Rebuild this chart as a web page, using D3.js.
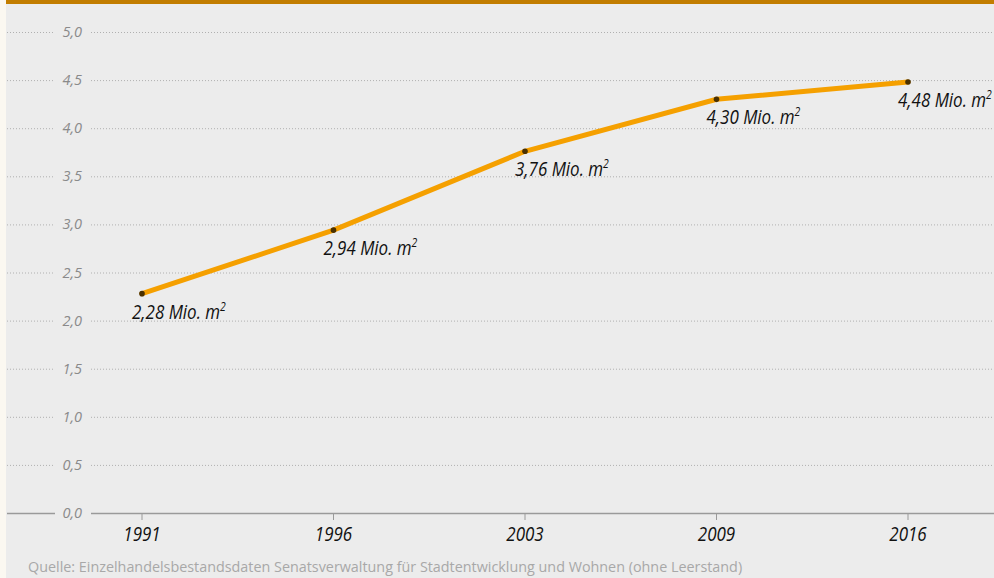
<!DOCTYPE html>
<html>
<head>
<meta charset="utf-8">
<script src="https://cdn.jsdelivr.net/npm/d3@7"></script>
<style>
  body { margin: 0; background: #ececec; }
  svg { display: block; }
</style>
</head>
<body>
<svg></svg>
<script>
const years = ["1991", "1996", "2003", "2009", "2016"];
const values = [2.28, 2.94, 3.76, 4.30, 4.48];
const labels = ["2,28", "2,94", "3,76", "4,30", "4,48"];
const yTicks = [0, 0.5, 1, 1.5, 2, 2.5, 3, 3.5, 4, 4.5, 5];
const source = "Quelle: Einzelhandelsbestandsdaten Senatsverwaltung für Stadtentwicklung und Wohnen (ohne Leerstand)";

const width = 994;
const height = 578;
const svg = d3.select("svg").attr("width", width).attr("height", height);
const font = "'Open Sans', 'Noto Sans', sans-serif";
const squeeze = 0.87; // the original font is narrower than Open Sans

// background, cream strip on the left, orange bar on top
svg.append("rect").attr("width", width).attr("height", height).attr("fill", "#ececec");
svg.append("rect").attr("width", 6).attr("height", height).attr("fill", "#fbf8f1");
svg.append("rect").attr("x", 6).attr("width", width - 6).attr("height", 4).attr("fill", "#c27d00");

const xScale = d3.scalePoint().domain(years).range([142, 908]);
const yScale = d3.scaleLinear().domain([0, 5]).range([513, 32]);

const fmt = (d) => d3.format(".1f")(d).replace(".", ",");

// gridlines with a gap for the label
const grid = svg.append("g");
yTicks.forEach((t) => {
  const y = yScale(t);
  const solid = t === 0;
  [[7, 55], [91, width]].forEach(([a, b]) => {
    grid.append("line")
      .attr("x1", a).attr("x2", b)
      .attr("y1", y + 0.5).attr("y2", y + 0.5)
      .attr("stroke", solid ? "#9a9a9a" : "#b0b0b0")
      .attr("stroke-width", solid ? 1.5 : 1)
      .attr("stroke-dasharray", solid ? null : "1,2");
  });
  grid.append("text")
    .attr("x", 82).attr("y", y + 5)
    .attr("text-anchor", "end")
    .attr("font-family", font)
    .attr("font-style", "italic")
    .attr("font-size", 14.5)
    .attr("fill", "#8a8a8a")
    .text(fmt(t));
});

// x axis ticks + labels
const xAxis = svg.append("g");
years.forEach((yr) => {
  const x = xScale(yr);
  xAxis.append("line")
    .attr("x1", x).attr("x2", x)
    .attr("y1", 513).attr("y2", 520)
    .attr("stroke", "#9a9a9a").attr("stroke-width", 1);
  xAxis.append("text")
    .attr("transform", "translate(" + x + ",541) scale(" + squeeze + ",1)")
    .attr("text-anchor", "middle")
    .attr("font-family", font)
    .attr("font-style", "italic")
    .attr("font-size", 19.5)
    .attr("fill", "#111")
    .text(yr);
});

// line
const line = d3.line()
  .x((d, i) => xScale(years[i]))
  .y((d) => yScale(d));

svg.append("path")
  .datum(values)
  .attr("d", line)
  .attr("fill", "none")
  .attr("stroke", "#f5a000")
  .attr("stroke-width", 5)
  .attr("stroke-linecap", "round");

svg.selectAll(".dot")
  .data(values)
  .enter()
  .append("circle")
  .attr("class", "dot")
  .attr("cx", (d, i) => xScale(years[i]))
  .attr("cy", (d) => yScale(d))
  .attr("r", 2.8)
  .attr("fill", "#4a3000");

// value labels
const lab = svg.selectAll(".lab")
  .data(values)
  .enter()
  .append("text")
  .attr("class", "lab")
  .attr("transform", (d, i) =>
    "translate(" + (xScale(years[i]) - 10) + "," + (yScale(d) + 25) + ") scale(" + squeeze + ",1)")
  .attr("font-family", font)
  .attr("font-style", "italic")
  .attr("font-size", 19.5)
  .attr("fill", "#111");
lab.append("tspan").text((d, i) => labels[i] + " Mio. m");
lab.append("tspan")
  .attr("dy", -8)
  .attr("font-size", 12)
  .text("2");

// source
svg.append("text")
  .attr("x", 28).attr("y", 572)
  .attr("font-family", font)
  .attr("font-size", 14.35)
  .attr("fill", "#a8a8a8")
  .text(source);
</script>
</body>
</html>
